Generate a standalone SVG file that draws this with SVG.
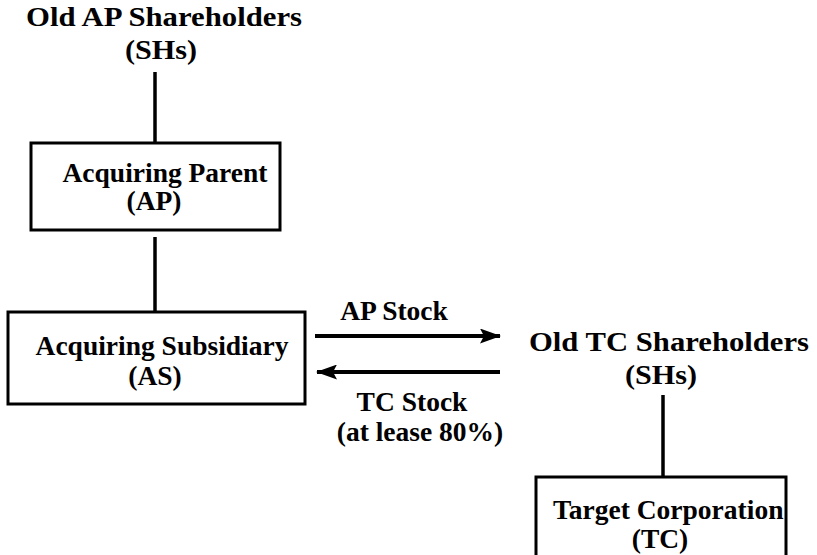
<svg xmlns="http://www.w3.org/2000/svg" width="817" height="555" viewBox="0 0 817 555">
  <defs>
    <marker id="arrow" viewBox="0 0 21 15" refX="20" refY="7.5" markerWidth="21" markerHeight="15" markerUnits="userSpaceOnUse" orient="auto">
      <path d="M0,0 L21,7.5 L0,15 L4,7.5 Z" fill="#000"/>
    </marker>
  </defs>
  <style>
    text { font-family: "Liberation Serif", "Times New Roman", serif; font-weight: bold; fill: #000; text-anchor: middle; }
    .big { font-size: 28px; }
    .med { font-size: 27.5px; }
    .box { fill: #fff; stroke: #000; stroke-width: 3; }
    .link { stroke: #000; stroke-width: 3.5; fill: none; }
    .flow { stroke: #000; stroke-width: 4; fill: none; }
  </style>
  <rect width="817" height="555" fill="#fff"/>

  <g id="connectors">
    <line class="link" x1="155" y1="72" x2="155" y2="143"/>
    <line class="link" x1="155" y1="237" x2="155" y2="311"/>
    <line class="flow" x1="315" y1="336" x2="500" y2="336" marker-end="url(#arrow)"/>
    <line class="flow" x1="500" y1="372" x2="317" y2="372" marker-end="url(#arrow)"/>
    <line class="link" x1="663" y1="395" x2="663" y2="477"/>
    <text class="med" x="394" y="320">AP Stock</text>
    <text class="med" x="412" y="411">TC Stock</text>
    <text class="med" x="420" y="441">(at lease 80%)</text>
  </g>

  <g id="old-ap-shareholders">
    <text class="big" x="164" y="26" textLength="276" lengthAdjust="spacingAndGlyphs">Old AP Shareholders</text>
    <text class="big" x="161" y="59" textLength="72" lengthAdjust="spacingAndGlyphs">(SHs)</text>
  </g>

  <g id="acquiring-parent">
    <rect class="box" x="31" y="143" width="249" height="87"/>
    <text class="med" x="165" y="182">Acquiring Parent</text>
    <text class="med" x="154" y="210">(AP)</text>
  </g>

  <g id="acquiring-subsidiary">
    <rect class="box" x="8" y="312" width="297" height="92"/>
    <text class="med" x="162" y="355">Acquiring Subsidiary</text>
    <text class="med" x="155" y="385">(AS)</text>
  </g>

  <g id="old-tc-shareholders">
    <text class="big" x="669" y="351" textLength="280" lengthAdjust="spacingAndGlyphs">Old TC Shareholders</text>
    <text class="big" x="661" y="384" textLength="72" lengthAdjust="spacingAndGlyphs">(SHs)</text>
  </g>

  <g id="target-corporation">
    <rect class="box" x="536" y="477" width="250" height="95"/>
    <text class="med" x="553" y="519" style="text-anchor:start">Target Corporation</text>
    <text class="med" x="660" y="548">(TC)</text>
  </g>
</svg>
